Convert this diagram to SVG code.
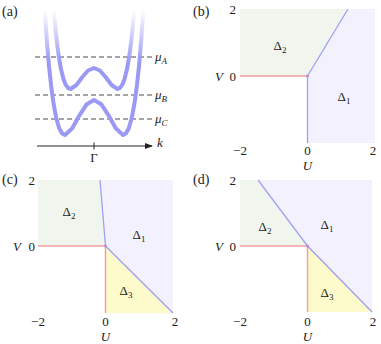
<svg xmlns="http://www.w3.org/2000/svg" width="381" height="344" viewBox="0 0 381 344">
<style>
text{font-family:"Liberation Serif","DejaVu Serif",serif;font-size:13px;fill:#222}
.it{font-style:italic}
.sub{font-size:9px}
.pl{font-size:14px}
.c{text-anchor:middle}
.r{text-anchor:end}
.band{fill:none;stroke:url(#fade);stroke-width:4;stroke-linecap:round;stroke-linejoin:round}
.dash{stroke:#888;stroke-width:1.5;stroke-dasharray:5 3;fill:none}
.red{stroke:#f2a0a0;stroke-width:1.5;fill:none}
.blue{stroke:#a0a0f2;stroke-width:1.3;fill:none}
.g{fill:#f0f6ee}.p{fill:#f3f1fe}.y{fill:#fdfbcb}
</style>
<defs>
<linearGradient id="fade" gradientUnits="userSpaceOnUse" x1="0" y1="10" x2="0" y2="62">
<stop offset="0" stop-color="#9a9af5" stop-opacity="0"/>
<stop offset="1" stop-color="#9a9af5" stop-opacity="1"/>
</linearGradient>
<marker id="ah" markerWidth="8" markerHeight="6" refX="7" refY="3" orient="auto" markerUnits="userSpaceOnUse">
<path d="M0,0 L8,3 L0,6 Z" fill="#222"/>
</marker>
</defs>

<g id="panel-a">
<text class="pl" x="2" y="16">(a)</text>
<g id="dashes">
<line class="dash" x1="35" y1="57" x2="152" y2="57"/>
<line class="dash" x1="35" y1="95" x2="152" y2="95"/>
<line class="dash" x1="35" y1="119" x2="152" y2="119"/>
</g>
<polyline class="band" points="44.9,13 47,42.6 49,66.2 51.1,85.4 53.4,102.7 56.3,118.3 59.2,128.2 62.1,133.5 65,135 72.25,128.3 79.5,115.3 86.75,104.2 94,100 101.25,104.2 108.5,115.3 115.75,128.3 123,135 125.9,133.5 128.8,128.2 131.7,118.3 134.6,102.7 136.9,85.4 139,66.2 141,42.6 143.1,13"/>
<polyline class="band" points="54,13 55.9,33.6 57.6,47.7 59.2,59.2 61.1,69.6 63.45,79 65.8,84.9 68.15,88.1 70.5,89 76.4,85 82.25,77.2 88.1,70.5 94,68 99.9,70.5 105.75,77.2 111.6,85 117.5,89 119.85,88.1 122.2,84.9 124.55,79 126.9,69.6 128.8,59.2 130.4,47.7 132.1,33.6 134,13"/>
<line x1="37" y1="146" x2="152" y2="146" stroke="#222" stroke-width="1" marker-end="url(#ah)"/>
<line x1="94" y1="142.5" x2="94" y2="149.5" stroke="#222" stroke-width="1"/>
<text class="c" x="94" y="162">Γ</text>
<text class="it" x="157" y="147">k</text>
<text class="it" x="155" y="61">μ<tspan class="sub" dy="3">A</tspan></text>
<text class="it" x="155" y="99">μ<tspan class="sub" dy="3">B</tspan></text>
<text class="it" x="155" y="123">μ<tspan class="sub" dy="3">C</tspan></text>
</g>

<g id="panel-b">
<text class="pl" x="193" y="16">(b)</text>
<polygon class="g" points="240,9 348,9 307.5,76 240,76"/>
<polygon class="p" points="348,9 375,9 375,143 307.5,143 307.5,76"/>
<line class="red" x1="240" y1="76" x2="307.5" y2="76"/>
<line class="blue" x1="307.5" y1="76" x2="348" y2="9"/>
<line class="blue" x1="307.5" y1="76" x2="307.5" y2="143"/>
<circle cx="307.5" cy="76" r="1.5" fill="#c090c8"/>
<text x="280" y="50" class="c">Δ<tspan class="sub" dy="3">2</tspan></text>
<text x="344" y="101" class="c">Δ<tspan class="sub" dy="3">1</tspan></text>
<text class="r" x="236" y="14">2</text>
<text class="r" x="236" y="81">0</text>
<text class="it c" x="219" y="81">V</text>
<text class="c" x="240" y="155">−2</text>
<text class="c" x="307.5" y="155">0</text>
<text class="c" x="373" y="155">2</text>
<text class="it c" x="307.5" y="170">U</text>
</g>

<g id="panel-c">
<text class="pl" x="2" y="184">(c)</text>
<polygon class="g" points="38,180 100,180 105.5,246 38,246"/>
<polygon class="p" points="100,180 173,180 173,313 105.5,246"/>
<polygon class="y" points="105.5,246 105.5,313 173,313"/>
<line class="red" x1="38" y1="246" x2="105.5" y2="246"/>
<line class="red" x1="105.5" y1="246" x2="105.5" y2="313"/>
<line class="blue" x1="100" y1="180" x2="105.5" y2="246"/>
<line class="blue" x1="105.5" y1="246" x2="173" y2="313"/>
<circle cx="105.5" cy="246" r="1.5" fill="#c090c8"/>
<text x="69" y="216" class="c">Δ<tspan class="sub" dy="3">2</tspan></text>
<text x="139" y="239" class="c">Δ<tspan class="sub" dy="3">1</tspan></text>
<text x="126" y="295" class="c">Δ<tspan class="sub" dy="3">3</tspan></text>
<text class="r" x="35" y="185">2</text>
<text class="r" x="35" y="251">0</text>
<text class="it c" x="17" y="251">V</text>
<text class="c" x="38" y="326">−2</text>
<text class="c" x="105.5" y="326">0</text>
<text class="c" x="175" y="326">2</text>
<text class="it c" x="105.5" y="341">U</text>
</g>

<g id="panel-d">
<text class="pl" x="193" y="184">(d)</text>
<polygon class="g" points="240,180 258,180 307.5,246 240,246"/>
<polygon class="p" points="258,180 372,180 372,312 307.5,246"/>
<polygon class="y" points="307.5,246 307.5,312 372,312"/>
<line class="red" x1="240" y1="246" x2="307.5" y2="246"/>
<line class="red" x1="307.5" y1="246" x2="307.5" y2="312"/>
<polyline class="blue" points="258,180 307.5,246 372,312"/>
<circle cx="307.5" cy="246" r="1.5" fill="#c090c8"/>
<text x="265" y="231" class="c">Δ<tspan class="sub" dy="3">2</tspan></text>
<text x="327" y="229" class="c">Δ<tspan class="sub" dy="3">1</tspan></text>
<text x="327" y="297" class="c">Δ<tspan class="sub" dy="3">3</tspan></text>
<text class="r" x="236" y="185">2</text>
<text class="r" x="236" y="251">0</text>
<text class="it c" x="219" y="251">V</text>
<text class="c" x="240" y="326">−2</text>
<text class="c" x="307.5" y="326">0</text>
<text class="c" x="373" y="326">2</text>
<text class="it c" x="307.5" y="341">U</text>
</g>
</svg>
